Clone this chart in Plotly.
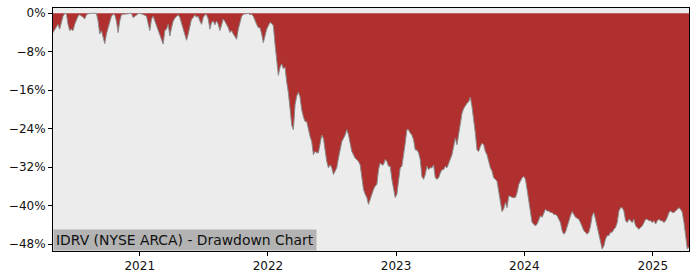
import pandas as pd
import plotly.graph_objects as go

# Drawdown (%) at regular spacing
start_date = "2020-04-29"
end_date = "2025-04-14"
drawdown = [
    -4.0, -3.4, -2.6, -2.3, -3.3, -1.9, -0.6, -0.1, 0.0, -2.3,
    -3.6, -3.3, -3.6, -2.3, -1.2, -0.6, -0.3, -0.5, -0.8, -1.2,
    -0.3, -0.1, 0.0, 0.0, 0.0, 0.0, 0.0, -1.6, -4.3, -3.6,
    -5.0, -6.3, -4.3, -3.0, -1.6, -0.6, -0.2, -0.3, -1.6, -4.0,
    -1.6, -0.3, -0.2, -0.2, -0.2, -0.1, 0.0, 0.0, -0.9, -0.6,
    -0.2, -0.1, 0.0, -0.1, -0.2, -0.4, -0.6, -2.0, -3.6, -1.2,
    -0.6, -1.6, -2.6, -3.5, -4.3, -5.5, -6.4, -3.6, -3.3, -2.3,
    -4.7, -3.0, -1.6, -1.0, -0.6, -0.3, -0.9, -2.0, -3.0, -4.3,
    -5.6, -4.3, -2.6, -1.2, -0.9, -0.3, -0.8, -0.6, -1.6, -2.3,
    -0.9, -0.3, -0.3, -1.2, -3.3, -1.9, -1.6, -2.4, -1.6, -2.3,
    -3.6, -2.3, -1.2, -1.7, -2.3, -3.0, -4.0, -3.6, -4.3, -5.0,
    -5.4, -3.3, -1.6, -0.6, -0.2, -0.1, 0.0, 0.0, -0.3, -0.2,
    -0.6, -1.6, -2.3, -3.0, -3.0, -4.3, -6.1, -4.7, -3.3, -2.6,
    -1.9, -2.1, -2.6, -6.4, -9.1, -12.9, -11.2, -10.5, -11.5, -11.2,
    -14.3, -16.5, -19.8, -23.2, -24.2, -19.0, -17.2, -16.4, -17.4, -20.1,
    -21.5, -22.5, -22.5, -24.2, -25.6, -26.7, -29.4, -28.7, -29.0, -29.0,
    -27.3, -25.3, -26.0, -28.7, -30.8, -32.1, -31.5, -32.1, -33.5, -32.8,
    -32.1, -30.1, -28.0, -26.7, -26.0, -25.3, -24.2, -25.2, -27.0, -28.7,
    -29.4, -30.1, -30.4, -30.8, -31.5, -34.5, -36.6, -37.6, -38.3, -39.7,
    -38.7, -37.3, -36.6, -35.9, -35.6, -32.5, -31.1, -31.5, -31.5, -30.4,
    -30.8, -31.8, -31.8, -34.5, -36.6, -38.3, -37.6, -34.5, -32.1, -31.8,
    -29.7, -27.0, -24.2, -24.2, -24.9, -25.3, -26.3, -28.4, -28.4, -29.0,
    -30.4, -33.9, -34.5, -33.5, -31.8, -32.5, -32.1, -32.1, -31.5, -34.2,
    -34.5, -34.2, -33.2, -32.5, -32.5, -31.8, -32.1, -31.1, -30.4, -29.4,
    -27.7, -26.0, -27.3, -24.9, -22.9, -20.8, -19.8, -19.1, -18.7, -18.4,
    -17.4, -19.4, -22.0, -24.9, -28.4, -28.7, -27.7, -27.0, -27.3, -28.7,
    -29.4, -31.1, -32.1, -32.8, -34.2, -34.5, -34.9, -37.0, -39.3, -41.2,
    -40.6, -39.3, -40.4, -38.0, -38.0, -38.3, -38.3, -38.3, -37.3, -35.6,
    -34.9, -34.2, -33.9, -34.5, -36.6, -39.3, -41.4, -43.5, -43.8, -44.2,
    -43.8, -42.8, -42.1, -42.4, -41.4, -40.7, -41.1, -41.1, -41.4, -41.4,
    -41.8, -41.8, -42.1, -42.8, -43.5, -45.2, -45.9, -45.5, -44.2, -42.8,
    -42.1, -41.2, -41.8, -42.4, -42.6, -42.8, -43.5, -44.5, -45.2, -45.5,
    -45.9, -45.5, -44.2, -42.1, -41.4, -42.8, -44.2, -46.2, -47.6, -49.0,
    -48.3, -46.9, -46.2, -46.2, -45.5, -45.5, -44.9, -44.5, -43.5, -41.1,
    -40.4, -40.4, -41.1, -43.1, -43.5, -42.8, -43.1, -43.5, -42.8, -44.2,
    -44.5, -44.9, -44.5, -44.2, -43.5, -42.8, -42.8, -43.1, -43.1, -43.5,
    -43.1, -43.8, -43.1, -42.8, -43.1, -43.1, -43.5, -43.1, -42.4, -41.4,
    -41.1, -41.4, -41.4, -41.1, -40.7, -40.4, -40.7, -41.4, -43.5, -46.9,
    -49.0, -48.5,
]
dates = pd.date_range(start_date, end_date, periods=len(drawdown))

y_ticks = [0, -8, -16, -24, -32, -40, -48]
y_tick_labels = ["0%", "\u22128%", "\u221216%", "\u221224%", "\u221232%", "\u221240%", "\u221248%"]
x_ticks = ["2021-01-01", "2022-01-01", "2023-01-01", "2024-01-01", "2025-01-01"]
x_tick_labels = ["2021", "2022", "2023", "2024", "2025"]
title_text = "IDRV (NYSE ARCA) - Drawdown Chart"

fig = go.Figure()
fig.add_trace(go.Scatter(
    x=dates, y=drawdown, mode="lines", fill="tozeroy",
    fillcolor="#b03030", line=dict(color="#8a8a8a", width=1),
    hoverinfo="skip", showlegend=False,
))

font = dict(family="DejaVu Sans", size=12, color="#111")
fig.update_layout(
    width=700, height=280,
    margin=dict(l=53, r=11, t=7, b=28),
    paper_bgcolor="white", plot_bgcolor="#ececec",
    font=font, showlegend=False,
    annotations=[dict(
        text=title_text, xref="paper", yref="paper", x=0, y=0,
        xanchor="left", yanchor="bottom", showarrow=False,
        font=dict(family="DejaVu Sans", size=13.9, color="#111"),
        bgcolor="#b3b3b3", borderpad=2,
    )],
)
fig.update_xaxes(
    range=[dates[0], dates[-1]], tickvals=x_ticks, ticktext=x_tick_labels,
    showgrid=False, zeroline=False, showline=True, linecolor="black",
    linewidth=1, mirror=True, ticks="outside", ticklen=4, tickcolor="black",
)
fig.update_yaxes(
    range=[-49.4, 1.1], tickvals=y_ticks, ticktext=y_tick_labels,
    showgrid=False, zeroline=False, showline=True, linecolor="black",
    linewidth=1, mirror=True, ticks="outside", ticklen=4, tickcolor="black",
)
fig.write_html("out.html")
